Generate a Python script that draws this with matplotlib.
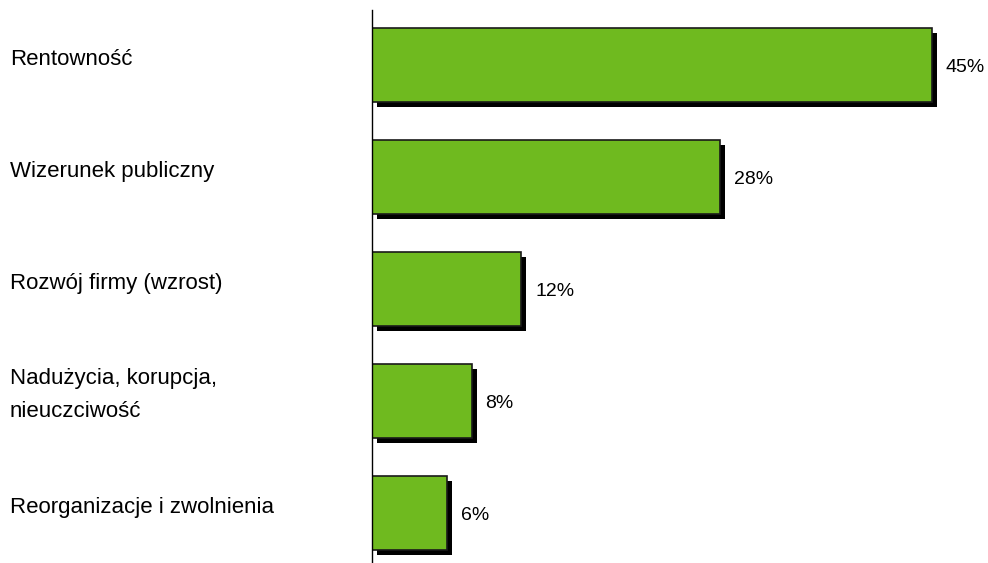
import matplotlib
matplotlib.use("Agg")
import matplotlib.pyplot as plt
import matplotlib.transforms as mtransforms
from matplotlib import font_manager

categories = ["Rentowność", "Wizerunek publiczny", "Rozwój firmy (wzrost)",
              "Nadużycia, korupcja,\nnieuczciwość", "Reorganizacje i zwolnienia"]
values = [45, 28, 12, 8, 6]
value_labels = ["45%", "28%", "12%", "8%", "6%"]

names = {f.name for f in font_manager.fontManager.ttflist}
fam = ["Liberation Sans Narrow", "DejaVu Sans"] if "Liberation Sans Narrow" in names else ["Liberation Sans", "DejaVu Sans"]
plt.rcParams["font.family"] = fam

fig = plt.figure(figsize=(9.88, 5.63), dpi=100)
ax = fig.add_axes([372 / 988, 0, 1 - 372 / 988, 553 / 563])

pos = list(range(len(values)))
# black drop shadow, shifted 5px right and down
shadow = ax.transData + mtransforms.ScaledTranslation(5 / 100, -5 / 100, fig.dpi_scale_trans)
ax.barh(pos, values, height=0.66, color="black", transform=shadow, zorder=1)
ax.barh(pos, values, height=0.66, color="#6fba1f", edgecolor="#1a1a1a", linewidth=1.2, zorder=2)

for p, v, lab in zip(pos, values, value_labels):
    ax.annotate(lab, (v, p), xytext=(10, -2), textcoords="offset points",
                ha="left", va="center", fontsize=14, color="black")

tr = mtransforms.blended_transform_factory(fig.transFigure, ax.transData)
for p, c in zip(pos, categories):
    ax.text(10 / 988, p - 0.05, c, transform=tr, ha="left", va="center",
            fontsize=16, color="black", linespacing=1.75)

ax.set_xlim(0, 49.5)
ax.set_ylim(4.446, -0.491)
for s in ["top", "right", "bottom"]:
    ax.spines[s].set_visible(False)
ax.spines["left"].set_linewidth(1)
ax.set_xticks([])
ax.set_yticks([])

fig.savefig("out.png", dpi=100)
